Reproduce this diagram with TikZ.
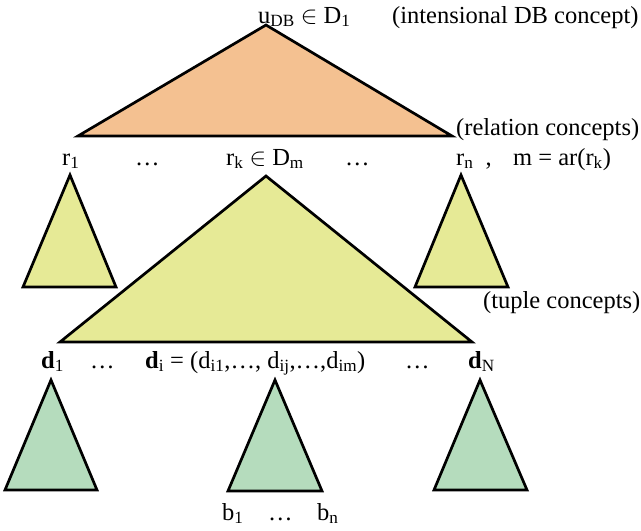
\documentclass[tikz,border=0pt]{standalone}
\usepackage{fontspec}
\setmainfont{Liberation Serif}
\definecolor{orangefill}{HTML}{F4C191}
\definecolor{yellowfill}{HTML}{E6EA96}
\definecolor{greenfill}{HTML}{B5DCBD}
\begin{document}
\begin{tikzpicture}[x=1pt,y=-1pt,
  tri/.style={draw=black,line width=2.7pt,line join=miter},
  lbl/.style={inner sep=0pt,anchor=base west,font=\fontsize{24.5}{28}\selectfont},
]
\useasboundingbox (0,0) rectangle (641,531);
% triangles
\draw[tri,fill=orangefill] (266,25) -- (78,136) -- (452,136) -- cycle;
\draw[tri,fill=yellowfill] (70,175) -- (23,287) -- (116,287) -- cycle;
\draw[tri,fill=yellowfill] (461,175) -- (415,287) -- (508,287) -- cycle;
\draw[tri,fill=yellowfill] (266,176) -- (60,342) -- (472,342) -- cycle;
\draw[tri,fill=greenfill] (51,380) -- (5,490) -- (97,490) -- cycle;
\draw[tri,fill=greenfill] (275,380) -- (228,491) -- (322,491) -- cycle;
\draw[tri,fill=greenfill] (480,380) -- (434,490) -- (527,490) -- cycle;
% labels
\node[lbl] (udb) at (258,23) {u\textsubscript{DB} $\in$ D\textsubscript{1}};
\node[lbl] (intdb) at (392,23) {(intensional DB concept)};
\node[lbl] (relc) at (456,135) {(relation concepts)};
\node[lbl] (r1) at (62,165) {r\textsubscript{1}};
\node[lbl] (rdots1) at (135,165) {…};
\node[lbl] (rk) at (226,165) {r\textsubscript{k} $\in$ D\textsubscript{m}};
\node[lbl] (rdots2) at (345,165) {…};
\node[lbl] (rn) at (456,165) {r\textsubscript{n}\,\,\,,};
\node[lbl] (mar) at (513,165) {m = ar(r\textsubscript{k})};
\node[lbl] (tupc) at (483,308) {(tuple concepts)};
\node[lbl] (d1) at (41,368) {\textbf{d}\textsubscript{1}};
\node[lbl] (ddots1) at (90,368) {…};
\node[lbl] (di) at (145,368) {\textbf{d}\textsubscript{i} = (d\textsubscript{i1},…, d\textsubscript{ij},…,d\textsubscript{im})};
\node[lbl] (ddots2) at (405,368) {…};
\node[lbl] (dN) at (468,368) {\textbf{d}\textsubscript{N}};
\node[lbl] (b1) at (222,520) {b\textsubscript{1}};
\node[lbl] (bdots) at (268,520) {…};
\node[lbl] (bn) at (317,520) {b\textsubscript{n}};
\end{tikzpicture}
\end{document}
